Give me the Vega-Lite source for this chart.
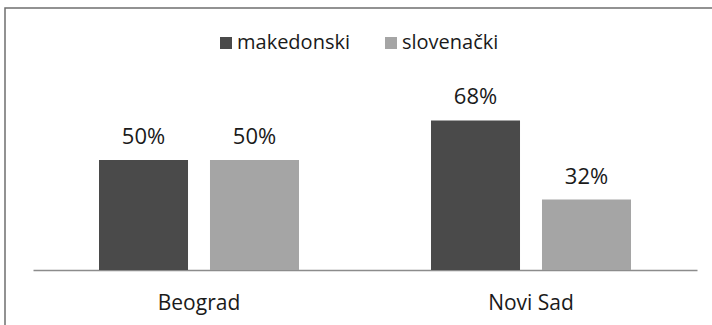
{
  "$schema": "https://vega.github.io/schema/vega-lite/v6.json",
  "width": 730,
  "height": 330,
  "autosize": {"type": "none"},
  "padding": {"left": 5, "top": 8, "right": -23, "bottom": -13},
  "background": "white",
  "config": {
    "view": {"stroke": "#6f6f6f", "strokeWidth": 1.5},
    "font": "Open Sans"
  },
  "data": {
    "values": [
      {"grad": "Beograd", "jezik": "makedonski", "udeo": 0.50},
      {"grad": "Beograd", "jezik": "slovenački", "udeo": 0.50},
      {"grad": "Novi Sad", "jezik": "makedonski", "udeo": 0.68},
      {"grad": "Novi Sad", "jezik": "slovenački", "udeo": 0.32}
    ]
  },
  "encoding": {
    "x": {
      "field": "grad",
      "type": "nominal",
      "sort": ["Beograd", "Novi Sad"],
      "scale": {"range": [28, 692], "paddingInner": 0.3976, "paddingOuter": 0.1988},
      "axis": {
        "title": null,
        "orient": "bottom",
        "offset": -68,
        "ticks": false,
        "labelAngle": 0,
        "labelPadding": 22,
        "labelFontSize": 21,
        "labelColor": "#1a1a1a",
        "domainColor": "#8c8c8c",
        "domainWidth": 1.5
      }
    },
    "xOffset": {
      "field": "jezik",
      "type": "nominal",
      "sort": ["makedonski", "slovenački"],
      "scale": {"paddingInner": 0.198, "paddingOuter": 0}
    },
    "y": {
      "field": "udeo",
      "type": "quantitative",
      "scale": {"domain": [0, 0.8], "range": [262, 86], "nice": false},
      "axis": null
    }
  },
  "layer": [
    {
      "mark": {"type": "bar"},
      "encoding": {
        "color": {
          "field": "jezik",
          "type": "nominal",
          "sort": ["makedonski", "slovenački"],
          "scale": {"domain": ["makedonski", "slovenački"], "range": ["#4a4a4a", "#a5a5a5"]},
          "legend": {
            "title": null,
            "orient": "none",
            "direction": "horizontal",
            "legendX": 211,
            "legendY": 25,
            "symbolType": "square",
            "symbolSize": 144,
            "symbolStrokeWidth": 0,
            "labelFontSize": 20,
            "labelColor": "#1a1a1a",
            "labelOffset": 1,
            "columnPadding": 31
          }
        }
      }
    },
    {
      "mark": {"type": "text", "dy": -16, "fontSize": 22, "color": "#1a1a1a", "baseline": "alphabetic"},
      "encoding": {
        "text": {"field": "udeo", "type": "quantitative", "format": ".0%"}
      }
    }
  ]
}
